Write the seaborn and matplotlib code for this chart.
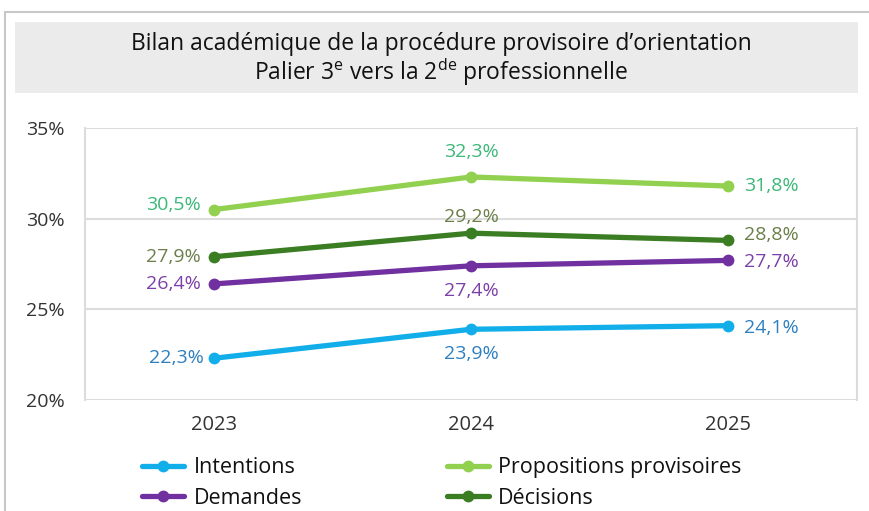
import matplotlib
matplotlib.use("Agg")
import matplotlib.pyplot as plt
import seaborn as sns
import pandas as pd
from matplotlib.patches import Rectangle
from matplotlib.lines import Line2D

years = ["2023", "2024", "2025"]
series_names = ["Intentions", "Demandes", "Propositions provisoires", "Décisions"]
intentions = [22.3, 23.9, 24.1]
demandes = [26.4, 27.4, 27.7]
propositions = [30.5, 32.3, 31.8]
decisions = [27.9, 29.2, 28.8]
yticks = [20, 25, 30, 35]

line_colors = {"Intentions": "#12aeea", "Demandes": "#7030a0",
               "Propositions provisoires": "#92d050", "Décisions": "#3a7d22"}
label_colors = {"Intentions": "#2e7fc0", "Demandes": "#7a3fa8",
                "Propositions provisoires": "#3cb878", "Décisions": "#6a7f4a"}

values = {"Intentions": intentions, "Demandes": demandes,
          "Propositions provisoires": propositions, "Décisions": decisions}
rows = []
for s in series_names:
    for i, y in enumerate(years):
        rows.append({"x": i, "year": y, "serie": s, "val": values[s][i]})
df = pd.DataFrame(rows)

sns.set_theme(style="white")
plt.rcParams["font.family"] = ["Open Sans", "DejaVu Sans"]
plt.rcParams["mathtext.fontset"] = "custom"
plt.rcParams["mathtext.rm"] = "Open Sans"

fig = plt.figure(figsize=(8.69, 5.11), dpi=100)
ax = fig.add_axes([85/869, 1-400/511, (857-85)/869, (400-128)/511])

# outer frame and title box
fig.patches.append(Rectangle((5/869, -0.1), 1.0, 1-12/511+0.1, transform=fig.transFigure,
                             fill=False, edgecolor="#c8c8c8", linewidth=1.5))
fig.patches.append(Rectangle((15/869, 1-93/511), (858-15)/869, (93-22)/511,
                             transform=fig.transFigure, facecolor="#ebebeb", edgecolor="none"))
fig.text(441/869, 1-44/511, "Bilan académique de la procédure provisoire d’orientation",
         ha="center", va="center", fontsize=16.5, color="#111111")
fig.text(441/869, 1-72/511, r"Palier 3$^{\mathrm{e}}$ vers la 2$^{\mathrm{de}}$ professionnelle",
         ha="center", va="center", fontsize=16.5, color="#111111")

sns.lineplot(data=df, x="x", y="val", hue="serie", hue_order=series_names,
             palette=line_colors, marker="o", markersize=8.5, markeredgewidth=0,
             linewidth=3.8, ax=ax, legend=False)

ax.set_xlim(-0.5, 2.5)
ax.set_ylim(20, 35)
ax.set_yticks(yticks)
ax.set_yticklabels([f"{t}%" for t in yticks], fontsize=14, color="#333333")
ax.set_xticks(range(len(years)))
ax.set_xticklabels(years, fontsize=14.5, color="#333333")
ax.tick_params(axis="y", pad=14.5, length=0)
ax.tick_params(axis="x", pad=11, length=0)
ax.set_xlabel("")
ax.set_ylabel("")
ax.grid(axis="y", color="#dcdcdc", linewidth=1.5)
for side in ["top", "bottom"]:
    ax.spines[side].set_visible(False)
for side in ["left", "right"]:
    ax.spines[side].set_color("#dcdcdc")
    ax.spines[side].set_linewidth(1.5)

# label offsets in points (dx, dy, ha)
offsets = {
    "Intentions": [(-7, 0, "right"), (0, -18, "center"), (11, -2, "left")],
    "Demandes": [(-9, 0, "right"), (0, -18, "center"), (11, -1.5, "left")],
    "Propositions provisoires": [(-9, 3, "right"), (0, 18, "center"), (11, 0, "left")],
    "Décisions": [(-9, 0, "right"), (0, 12, "center"), (11, 4, "left")],
}
for s in series_names:
    for i in range(len(years)):
        dx, dy, ha = offsets[s][i]
        v = values[s][i]
        ax.annotate(f"{v:.1f}%".replace(".", ","), (i, v), xytext=(dx, dy),
                    textcoords="offset points", ha=ha, va="center",
                    fontsize=14, color=label_colors[s])

handles = [Line2D([], [], color=line_colors[s], lw=3.8, marker="o", markersize=8.5,
                  markeredgewidth=0) for s in series_names]
leg = fig.legend(handles, series_names, ncol=2, loc="center",
                 bbox_to_anchor=(442/869, 1-483/511), frameon=False, fontsize=15.5,
                 handlelength=1.95, columnspacing=6.7, labelspacing=0.42, handletextpad=0.45,
                 borderpad=0.2)
for t in leg.get_texts():
    t.set_color("#111111")

fig.savefig("out.png", dpi=100)
